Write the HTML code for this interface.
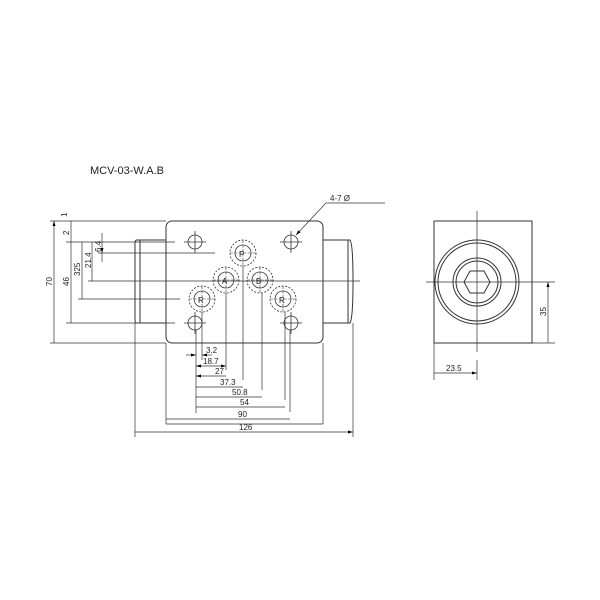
<!DOCTYPE html><html><head><style>body{margin:0;background:#fff}svg{display:block}text{font-family:"Liberation Sans",sans-serif;font-size:8px;fill:#222}</style></head><body>
<svg width="600" height="600" viewBox="0 0 600 600" xmlns="http://www.w3.org/2000/svg">
<defs><marker id="a" viewBox="0 0 10 10" refX="10" refY="5" markerUnits="userSpaceOnUse" markerWidth="8" markerHeight="5" orient="auto-start-reverse"><path d="M0,2L10,5L0,8z" fill="#000"/></marker></defs>
<g stroke="#333" fill="none" stroke-width="1">
<text x="90" y="174" style="font-size:11px" stroke="none">MCV-03-W.A.B</text>
<path d="M137,240H166M137,323H166M137,240Q135,240 135,243V320Q135,323 137,323M140,240V323"/>
<path d="M323,240H350Q353,244 353,281Q353,318 350,323H323M348,240V323"/>
<rect x="166" y="221" width="157" height="122" rx="6"/>
<g stroke-width="0.8">
<circle cx="195" cy="242" r="7"/><circle cx="291" cy="242" r="7"/><circle cx="195" cy="323" r="7"/><circle cx="291" cy="323" r="7"/>
<circle cx="243" cy="253" r="8"/><circle cx="226" cy="280" r="8"/><circle cx="260" cy="280" r="8"/><circle cx="202" cy="299" r="8"/><circle cx="283" cy="299" r="8"/>
<g stroke-dasharray="2,1.5"><circle cx="243" cy="253" r="13"/><circle cx="226" cy="280" r="13"/><circle cx="260" cy="280" r="13"/><circle cx="202" cy="299" r="13"/><circle cx="283" cy="299" r="13"/></g>
<path d="M184,242H206M195,231V253M280,242H302M291,231V253M184,323H206M195,312V334M280,323H302M291,312V334"/>
<path d="M230,253H256M243,240V266M213,280H239M226,267V293M247,280H273M260,267V293M189,299H215M202,286V312M270,299H296M283,286V312" stroke-dasharray="3,1.5" stroke-width="0.6"/>
</g>
<g stroke="none" fill="#222" style="font-size:9px"><text x="239" y="257">P</text><text x="222" y="284">A</text><text x="256" y="284">B</text><text x="198" y="303">R</text><text x="279" y="303">R</text></g>
<g stroke-width="0.7">
<path d="M50,221H166M66,242H175M98,253H215M88,281H360M78,299H180M66,323H175M50,343H166"/>
<path d="M54,221V343M71,221V242M71,242V323M82,242V299M92,242V281M102,233V253" marker-start="url(#a)" marker-end="url(#a)"/>
<path d="M102,253V262"/>
</g>
<g stroke="none" style="font-size:7.5px">
<text transform="translate(52,286) rotate(-90)">70</text>
<text transform="translate(69,286) rotate(-90)">46</text>
<text transform="translate(80,276) rotate(-90)">325</text>
<text transform="translate(91,268) rotate(-90)">21.4</text>
<text transform="translate(101,252) rotate(-90)">6.4</text>
<text transform="translate(69,235) rotate(-90)">2</text>
<text transform="translate(67,217) rotate(-90)">1</text>
</g>
<g stroke-width="0.7">
<path d="M135,323V437M166,343V424M323,343V424M353,323V437M196,330V413M202,312V360M226,293V370M243,266V380M262,293V390M285,312V400M290,330V412"/>
<path d="M196,376H226M196,387H243M196,397H262M196,407H285M196,419H290M166,419H196M166,424H323M135,432H353" marker-start="url(#a)" marker-end="url(#a)"/>
<path d="M186,355H196" marker-end="url(#a)"/><path d="M212,355H202" marker-end="url(#a)"/>
<path d="M196,366H226" marker-start="url(#a)" marker-end="url(#a)"/>
</g>
<g stroke="none" style="font-size:8px">
<text x="206" y="353">3.2</text><text x="203" y="364">18.7</text><text x="215" y="374">27</text><text x="220" y="385">37.3</text><text x="232" y="395">50.8</text><text x="240" y="405">54</text><text x="238" y="417">90</text><text x="239" y="430">126</text>
<text x="330" y="201">4-7 Ø</text>
</g>
<path d="M385,203H326L296,235" stroke-width="0.7" marker-end="url(#a)"/>
<rect x="434" y="221" width="98" height="122"/>
<circle cx="477" cy="282" r="42"/><circle cx="477" cy="282" r="39"/><circle cx="477" cy="282" r="24"/><circle cx="477" cy="282" r="21"/>
<path d="M464,282L470,271H484L490,282L484,293H470Z"/>
<g stroke-width="0.7">
<path d="M477,211V352M426,282H538M532,282H555M532,343H555M434,343V380M477,360V380"/>
<path d="M548,282V343M434,373H477" marker-start="url(#a)" marker-end="url(#a)"/>
</g>
<g stroke="none" style="font-size:8px"><text transform="translate(546,316) rotate(-90)">35</text><text x="446" y="371">23.5</text></g>
</g></svg></body></html>
